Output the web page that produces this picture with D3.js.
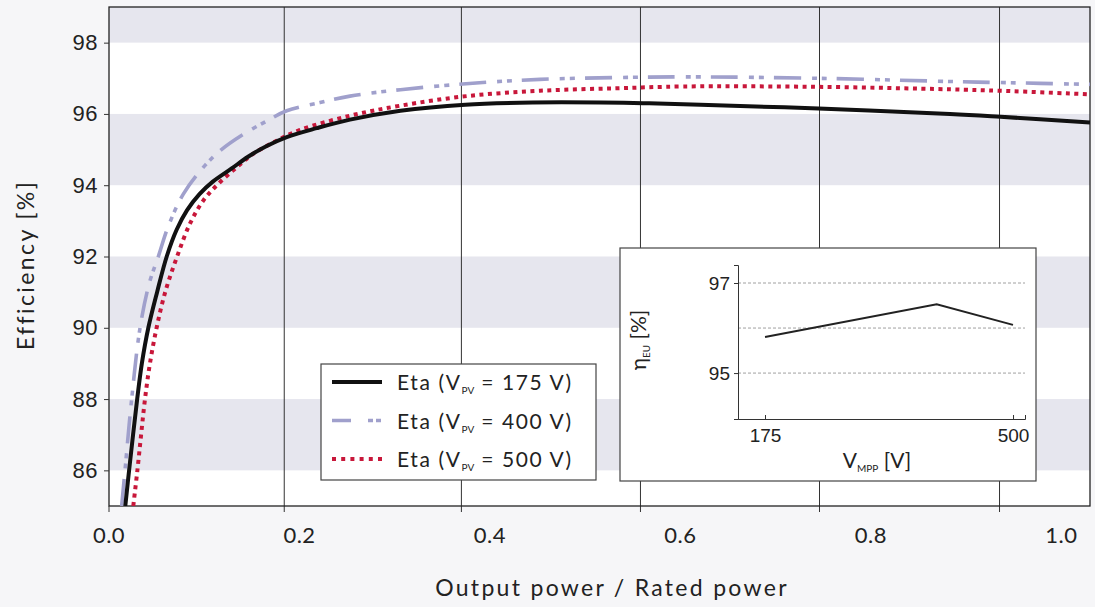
<!DOCTYPE html>
<html>
<head>
<meta charset="utf-8">
<script src="https://cdn.jsdelivr.net/npm/d3@7"></script>
<style>
  html, body { margin: 0; padding: 0; background: #f6f6f8; }
  svg { display: block; font-family: Lato, "Open Sans", sans-serif; }
</style>
</head>
<body>
<svg id="chart" width="1095" height="607"></svg>
<script>
// Efficiency curves of the inverter at three PV input voltages
const xTickLabels = [0, 0.2, 0.4, 0.6, 0.8, 1.0];
const gridX = [0.184, 0.370, 0.558, 0.746, 0.935];
const yTicks = [86, 88, 90, 92, 94, 96, 98];
const shadedBands = [[86, 88], [90, 92], [94, 96], [98, 99]];

const load175 = [0.0171, 0.0211, 0.0296, 0.0345, 0.0413, 0.0505, 0.0606, 0.071, 0.082, 0.095, 0.109, 0.1288, 0.146, 0.1656, 0.1866, 0.218, 0.253, 0.306, 0.374, 0.445, 0.516, 0.561, 0.621, 0.745, 0.883, 0.936, 1.03];
const eta175  = [85, 86, 88, 89, 90, 91.0, 92.0, 92.75, 93.3, 93.75, 94.1, 94.47, 94.8, 95.1, 95.35, 95.6, 95.84, 96.09, 96.26, 96.32, 96.32, 96.30, 96.26, 96.15, 96.0, 95.92, 95.76];

const load400 = [0.0133, 0.0168, 0.0238, 0.0326, 0.0423, 0.0518, 0.0623, 0.078, 0.099, 0.1166, 0.141, 0.1656, 0.1866, 0.2215, 0.253, 0.306, 0.382, 0.4525, 0.533, 0.603, 0.745, 0.883, 0.936, 1.03];
const eta400  = [85, 86, 88, 90, 91.25, 92.0, 92.85, 93.75, 94.5, 94.97, 95.43, 95.8, 96.09, 96.32, 96.5, 96.68, 96.86, 96.97, 97.02, 97.04, 97.0, 96.91, 96.88, 96.83];

const load500 = [0.0255, 0.0298, 0.0378, 0.043, 0.050, 0.059, 0.0715, 0.085, 0.099, 0.1148, 0.134, 0.1498, 0.176, 0.2006, 0.253, 0.3056, 0.3756, 0.4525, 0.533, 0.603, 0.745, 0.883, 0.936, 1.03];
const eta500  = [85, 86, 88, 89, 90, 91.0, 92.0, 92.92, 93.57, 94.04, 94.5, 94.85, 95.25, 95.55, 95.95, 96.23, 96.5, 96.65, 96.72, 96.77, 96.76, 96.69, 96.65, 96.55];

const legendVoltages = ["175", "400", "500"];

// European efficiency versus MPP voltage (inset)
const vmpp = [175, 400, 500];
const etaEU = [95.8, 96.53, 96.07];
const insetXTicks = [175, 500];
const insetYTicks = [95, 97];
const insetGrid = [95, 96, 97];

const svg = d3.select("#chart");
const plotL = 109, plotR = 1090, plotT = 7, plotB = 506;

const x = d3.scaleLinear().domain([0, 1.03]).range([plotL, plotR]);
const y = d3.scaleLinear().domain([85, 99]).range([plotB, plotT]);

// plot background with alternating bands
svg.append("rect").attr("x", plotL).attr("y", plotT)
  .attr("width", plotR - plotL).attr("height", plotB - plotT).attr("fill", "#ffffff");
svg.append("g").selectAll("rect").data(shadedBands).join("rect")
  .attr("x", plotL).attr("width", plotR - plotL)
  .attr("y", d => y(d[1])).attr("height", d => y(d[0]) - y(d[1]))
  .attr("fill", "#e6e6ee");

// vertical grid lines with outward ticks below the axis
svg.append("g").selectAll("line").data(gridX).join("line")
  .attr("x1", d => x(d)).attr("x2", d => x(d))
  .attr("y1", plotT).attr("y2", plotB + 6)
  .attr("stroke", "#333").attr("stroke-width", 1);

// frame
svg.append("rect").attr("x", plotL).attr("y", plotT)
  .attr("width", plotR - plotL).attr("height", plotB - plotT)
  .attr("fill", "none").attr("stroke", "#222").attr("stroke-width", 1.3);

// y axis
const yAxis = d3.axisLeft(y).tickValues(yTicks).tickSize(5).tickPadding(6).tickFormat(d3.format("d"));
const gy = svg.append("g").attr("transform", `translate(${plotL},0)`).call(yAxis);
gy.select(".domain").remove();
gy.selectAll("line").attr("stroke", "#333");
gy.selectAll("text").attr("font-size", 22).attr("fill", "#222").attr("letter-spacing", 0.5);

// x axis labels
const gx = svg.append("g");
gx.selectAll("text").data(xTickLabels).join("text")
  .attr("x", d => x(d)).attr("y", 543)
  .attr("text-anchor", "middle").attr("font-size", 22).attr("fill", "#222").attr("letter-spacing", 0.5)
  .text(d => d3.format(".1f")(d));
gx.append("line").attr("x1", plotL).attr("x2", plotL).attr("y1", plotB).attr("y2", plotB + 6).attr("stroke", "#333");

// axis titles
svg.append("text").attr("x", 612).attr("y", 596).attr("text-anchor", "middle")
  .attr("font-size", 23).attr("letter-spacing", 2.3).attr("fill", "#222").text("Output power / Rated power");
svg.append("text").attr("transform", "translate(34,265) rotate(-90)").attr("text-anchor", "middle")
  .attr("font-size", 23).attr("letter-spacing", 2.4).attr("fill", "#222").text("Efficiency [%]");

// curves
svg.append("clipPath").attr("id", "plotClip").append("rect")
  .attr("x", plotL).attr("y", plotT).attr("width", plotR - plotL).attr("height", plotB - plotT);

const line = d3.line().x(d => x(d[0])).y(d => y(d[1])).curve(d3.curveCatmullRom.alpha(0.5));
const series = [
  { load: load400, eta: eta400, color: "#a0a0cc", width: 3.6, dash: "27,11,5,5,5,10" },
  { load: load500, eta: eta500, color: "#c8173a", width: 4, dash: "4,4.5" },
  { load: load175, eta: eta175, color: "#111111", width: 4, dash: null }
];
const curves = svg.append("g").attr("clip-path", "url(#plotClip)");
series.forEach(s => {
  curves.append("path").datum(d3.zip(s.load, s.eta))
    .attr("d", line).attr("fill", "none")
    .attr("stroke", s.color).attr("stroke-width", s.width)
    .attr("stroke-dasharray", s.dash);
});

// legend
const lg = svg.append("g");
lg.append("rect").attr("x", 321).attr("y", 364).attr("width", 275).attr("height", 116)
  .attr("fill", "#ffffff").attr("stroke", "#444").attr("stroke-width", 1.2);
const legendRows = [
  { color: "#111111", width: 4, dash: null },
  { color: "#a0a0cc", width: 3.6, dash: "19,17,5,3,5,20" },
  { color: "#c8173a", width: 4, dash: "4,5.2" }
];
const rowY = d3.scalePoint().domain(legendVoltages).range([382, 459]);
legendVoltages.forEach((v, i) => {
  const r = legendRows[i];
  const yy = rowY(v);
  lg.append("line").attr("x1", 332).attr("x2", 382).attr("y1", yy).attr("y2", yy)
    .attr("stroke", r.color).attr("stroke-width", r.width).attr("stroke-dasharray", r.dash);
  const t = lg.append("text").attr("x", 397).attr("y", yy + 8)
    .attr("font-size", 21).attr("letter-spacing", 1.6).attr("fill", "#222");
  t.append("tspan").text("Eta (V");
  t.append("tspan").attr("font-size", 10).attr("letter-spacing", 0).attr("dy", 4).text("PV");
  t.append("tspan").attr("dy", -4).text(` = ${v} V)`);
});

// inset: European efficiency
const ig = svg.append("g");
ig.append("rect").attr("x", 620).attr("y", 248).attr("width", 416).attr("height", 233)
  .attr("fill", "#ffffff").attr("stroke", "#444").attr("stroke-width", 1.2);
const ix = d3.scaleLinear().domain([139.6, 515.7]).range([738, 1025]);
const iy = d3.scaleLinear().domain([93.98, 97.4]).range([419, 265]);

ig.append("g").selectAll("line").data(insetGrid).join("line")
  .attr("x1", 738).attr("x2", 1025).attr("y1", d => iy(d)).attr("y2", d => iy(d))
  .attr("stroke", "#a0a0a0").attr("stroke-width", 1).attr("stroke-dasharray", "3,2");

const iyAxis = d3.axisLeft(iy).tickValues(insetYTicks).tickSize(4).tickPadding(4).tickFormat(d3.format("d"));
const giy = ig.append("g").attr("transform", "translate(738,0)").call(iyAxis);
giy.select(".domain").attr("stroke", "#333");
giy.selectAll("line").attr("stroke", "#333");
giy.selectAll("text").attr("font-size", 19).attr("fill", "#222");

const ixAxis = d3.axisBottom(ix).tickValues(insetXTicks).tickSize(-4).tickPadding(10).tickFormat(d3.format("d"));
const gix = ig.append("g").attr("transform", "translate(0,419)").call(ixAxis);
gix.select(".domain").attr("stroke", "#333");
gix.selectAll("line").attr("stroke", "#333");
gix.selectAll("text").attr("font-size", 19).attr("fill", "#222");

ig.append("path").datum(d3.zip(vmpp, etaEU))
  .attr("d", d3.line().x(d => ix(d[0])).y(d => iy(d[1])))
  .attr("fill", "none").attr("stroke", "#222").attr("stroke-width", 2);

const ixt = ig.append("text").attr("x", 877).attr("y", 468).attr("text-anchor", "middle")
  .attr("font-size", 21).attr("fill", "#222");
ixt.append("tspan").text("V");
ixt.append("tspan").attr("font-size", 10).attr("dy", 4).text("MPP");
ixt.append("tspan").attr("dy", -4).text(" [V]");

const iyt = ig.append("text").attr("transform", "translate(646,340) rotate(-90)")
  .attr("text-anchor", "middle").attr("font-size", 21).attr("fill", "#222");
iyt.append("tspan").text("η");
iyt.append("tspan").attr("font-size", 10).attr("dy", 4).text("EU");
iyt.append("tspan").attr("dy", -4).text(" [%]");
</script>
</body>
</html>
